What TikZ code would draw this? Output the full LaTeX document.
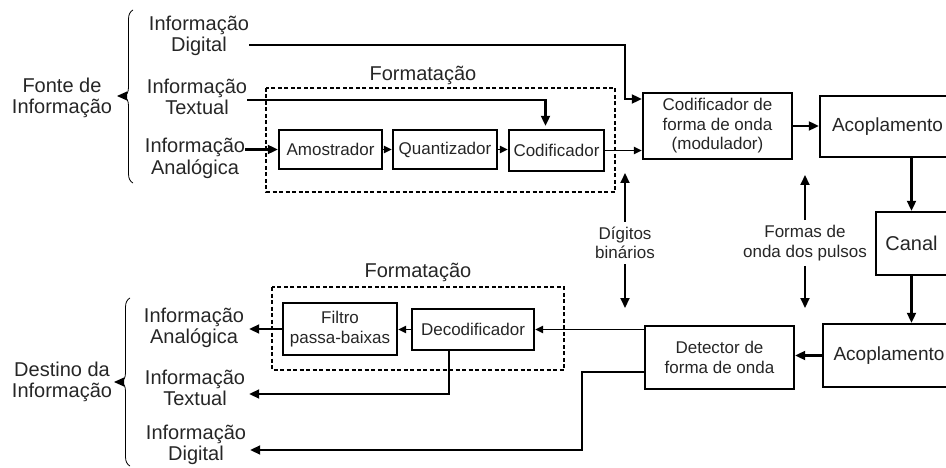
\documentclass[tikz,border=0pt]{standalone}
\usepackage{fontspec}
\setmainfont{Liberation Sans}
\usetikzlibrary{arrows.meta,decorations.pathreplacing,calc}
\begin{document}
\begin{tikzpicture}[x=1pt,y=-1pt,
  every node/.style={text=black!85, align=center, inner sep=0pt},
  lab/.style={font=\fontsize{20}{21.5}\selectfont},
  sm/.style={font=\fontsize{17}{19.5}\selectfont},
  bigt/.style={font=\fontsize{19}{21}\selectfont},
  blk/.style n args={2}{draw=black, line width=2.4pt, minimum width=#1, minimum height=#2, font=\fontsize{17}{19.5}\selectfont},
  arr/.style={draw=black, line width=2.1pt, -{Triangle[length=10pt,width=9pt]}},
  arrt/.style={draw=black, line width=1.4pt, -{Triangle[length=8pt,width=7.5pt]}},
  fmtbox/.style={draw=black, line width=1.8pt, dash pattern=on 4pt off 2.5pt},
  brc/.style={draw=black, line width=0.8pt, decorate, decoration={brace, amplitude=9pt}}
]
\useasboundingbox (0,0) rectangle (946,468);
\clip (0,0) rectangle (946,468);

% source side labels
\node[lab] (fonte) at (62,98) {Fonte de\\Informação};
\node[lab] (srcD) at (199,36) {Informação\\Digital};
\node[lab] (srcT) at (197,97) {Informação\\Textual};
\node[lab] (srcA) at (195,158.5) {Informação\\Analógica};
% destination side labels
\node[lab] (dstA) at (194,328) {Informação\\Analógica};
\node[lab] (dstT) at (195,388) {Informação\\Textual};
\node[lab] (dstD) at (196,445) {Informação\\Digital};
\node[lab] (dest) at (62,382) {Destino da\\Informação};

% braces
\draw[brc] (133,183) -- (133,10);
\fill[black] (117,96) -- (127,91.5) -- (127,100.5) -- cycle;
\draw[brc] (130,466) -- (130,298);
\fill[black] (114,382) -- (124,377.5) -- (124,386.5) -- cycle;

% formatting regions
\draw[fmtbox] (266,88) rectangle (615,192);
\draw[fmtbox] (272,287) rectangle (564,370);
\node[lab] (fmt1) at (423,75) {Formatação};
\node[lab] (fmt2) at (418,272) {Formatação};

% blocks
\node[blk={103}{39}] (amos) at (330.5,149.5) {Amostrador};
\node[blk={104}{39}] (quant) at (445,149.5) {Quantizador};
\node[blk={95}{41}] (cod) at (556.5,150.5) {Codificador};
\node[blk={149}{66}] (mod) at (717.5,126) {Codificador de\\forma de onda\\(modulador)};
\node[blk={135}{61}, bigt] (acop1) at (887.5,126.5) {Acoplamento};
\node[blk={71}{63}, font=\fontsize{20}{22}\selectfont] (canal) at (911.5,243.5) {Canal};
\node[blk={132}{63}, bigt] (acop2) at (889,355.5) {Acoplamento};
\node[blk={149}{63}] (det) at (719.5,357.5) {Detector de\\forma de onda};
\node[blk={122}{41}] (decod) at (473,329.5) {Decodificador};
\node[blk={114}{52}] (filtro) at (340,329) {Filtro\\passa-baixas};

% middle labels
\node[sm, inner sep=5pt] (dig) at (625,243) {Dígitos\\binários};
\node[sm, inner sep=5pt] (formas) at (805,243) {Formas de\\onda dos pulsos};

% transmit chain
\coordinate (jD) at (625,99);
\draw[arr] ([yshift=-9pt]srcD.east) -| (jD) -- (jD -| mod.west);
\draw[arr] ([yshift=-3pt]srcT.east) -| ([xshift=-11pt,yshift=3pt]cod.north);
\draw[arr] ([yshift=9pt]srcA.east) -- (amos.west);
\draw[arrt] (amos.east) -- (quant.west);
\draw[arrt] (quant.east) -- (quant.east -| cod.west);
\draw[arrt] (cod.east) -- (cod.east -| mod.west);
\draw[arr] (mod.east) -- (mod.east -| acop1.west);
\draw[arr] (canal.north |- acop1.south) -- (canal.north);
\draw[arr] (canal.south) -- (canal.south |- acop2.north);

% receive chain
\draw[arr] (acop2.west) -- (acop2.west -| det.east);
\draw[arrt] (decod.east -| det.west) -- (decod.east);
\draw[arrt] (decod.west) -- (decod.west -| filtro.east);
\coordinate (dAe) at ([xshift=5pt]dstA.east);
\draw[arr] (filtro.west) -- (filtro.west -| dAe);
\coordinate (dTe) at ([xshift=4pt,yshift=-6pt]dstT.east);
\draw[arr] ([xshift=-24pt]decod.south) |- (dTe);
\coordinate (kD) at (582,450);
\coordinate (dDe) at ([xshift=4pt]dstD.east);
\draw[arr] ([yshift=-14.5pt]det.west) -| (kD) -- (kD -| dDe);

% vertical double arrows
\coordinate (dUp) at (625,173);
\coordinate (dDn) at (625,308);
\coordinate (fUp) at (805,175);
\coordinate (fDn) at (805,308);
\draw[arr] (dig.north) -- (dUp);
\draw[arr] (dig.south) -- (dDn);
\draw[arr] (formas.north) -- (fUp);
\draw[arr] (formas.south) -- (fDn);
\end{tikzpicture}
\end{document}
